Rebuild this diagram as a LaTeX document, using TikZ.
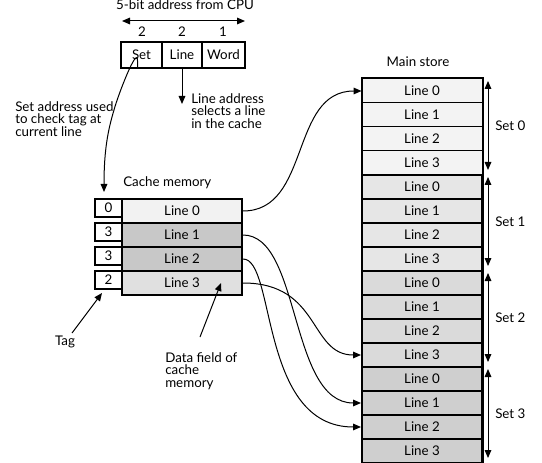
\documentclass[tikz,border=0pt]{standalone}
\usepackage{fontspec}
\setmainfont{Lato}
\usetikzlibrary{arrows.meta}
\definecolor{msA}{HTML}{F3F3F3}
\definecolor{msB}{HTML}{E6E6E6}
\definecolor{msC}{HTML}{DADADA}
\definecolor{msD}{HTML}{CFCFCF}
\definecolor{cLight}{HTML}{F2F2F2}
\definecolor{cDark}{HTML}{C8C8C8}
\definecolor{cMid}{HTML}{E0E0E0}
\begin{document}
\begin{tikzpicture}[x=0.75pt,y=-0.75pt,
  font=\fontsize{10}{9.6}\selectfont,
  rowbox/.style={draw, line width=1.5pt, minimum width=90pt, minimum height=18pt, inner sep=0pt},
  tagbox/.style={draw, line width=1.5pt, minimum width=20.25pt, minimum height=13.5pt, inner sep=0pt},
  addrbox/.style={draw, line width=1.1pt, minimum height=19.5pt, inner sep=0pt},
  txt/.style={inner sep=0pt, align=left},
  conn/.style={line width=0.75pt, -{Triangle[length=6pt,width=5pt]}},
  dbl/.style={line width=0.75pt, {Triangle[length=6pt,width=5pt]}-{Triangle[length=6pt,width=5pt]}}]
\useasboundingbox (0,0) rectangle (542,463);

% top address
\node[inner sep=0pt, anchor=base] (title) at (185,10) {5-bit address from CPU};
\coordinate (tl) at (122,21);
\coordinate (tr) at (245,21);
\draw[dbl] (tl) -- (tr);
\node[inner sep=0pt, anchor=base] (n1) at (142,37) {2};
\node[inner sep=0pt, anchor=base] (n2) at (182,37) {2};
\node[inner sep=0pt, anchor=base] (n3) at (223,37) {1};
\node[addrbox, minimum width=30.75pt] (aset) at (141.5,55) {Set};
\node[addrbox, minimum width=30pt] (aline) at (182,55) {Line};
\node[addrbox, minimum width=32.25pt] (aword) at (223.5,55) {Word};

% annotations
\node[txt, anchor=north west] (setnote) at (15,101) {Set address used\\to check tag at\\current line};
\node[txt, anchor=north west] (linenote) at (191,93) {Line address\\selects a line\\in the cache};
\coordinate (setend) at (104,192);
\coordinate (lineend) at (182,104);
\draw[conn] ([xshift=-3pt]aset.south) -- +(0,-8) .. controls +(0,-16) and (118,95) .. (114,110) .. controls (108,130) and (104,150) .. (setend);
\draw[conn] (aline.south) -- (lineend);

\node[inner sep=0pt, anchor=base west] (cmlabel) at (123,187) {Cache memory};

% cache memory
\node[rowbox, fill=cLight] (c0) at (182,211) {Line 0};
\node[rowbox, fill=cDark] (c1) at (182,235) {Line 1};
\node[rowbox, fill=cDark] (c2) at (182,259) {Line 2};
\node[rowbox, fill=cMid] (c3) at (182,283) {Line 3};
\node[tagbox] (t0) at (108.5,208) {0};
\node[tagbox] (t1) at (108.5,232) {3};
\node[tagbox] (t2) at (108.5,256) {3};
\node[tagbox] (t3) at (108.5,280) {2};

\node[inner sep=0pt, anchor=base] (tag) at (65,345) {Tag};
\coordinate (tagfrom) at (72,333);
\coordinate (tagend) at (102,293);
\draw[conn] (tagfrom) -- (tagend);
\node[txt, anchor=north west] (datanote) at (165,352) {Data field of\\cache\\memory};
\coordinate (datafrom) at (200,337);
\coordinate (dataend) at (221,283);
\draw[conn] (datafrom) -- (dataend);

% main store
\node[inner sep=0pt, anchor=base] (mslabel) at (418,67) {Main store};
\foreach \s/\col in {0/msA,1/msB,2/msC,3/msD} {
  \foreach \l in {0,...,3} {
    \pgfmathtruncatemacro\k{4*\s+\l}
    \ifnum\s=0
      \node[rowbox, fill=\col, line width=0.75pt] (ms\k) at (422,{91+24*\k}) {Line \l};
    \else
      \node[rowbox, fill=\col] (ms\k) at (422,{91+24*\k}) {Line \l};
    \fi
  }
  \coordinate (st\s) at (488,{79+96*\s+2});
  \coordinate (sb\s) at (488,{79+96*\s+91});
  \draw[dbl] (st\s) -- (sb\s);
  \node[inner sep=0pt, anchor=west] (setlab\s) at (495,{79+96*\s+47}) {Set \s};
}
\draw[line width=1.5pt] (ms0.north west) rectangle (ms15.south east);

% mapping connectors
\draw[conn] (c0.east) .. controls +(68,0) and +(-72,0) .. (ms0.west);
\draw[conn] (c1.east) .. controls +(58,0) and +(-72,0) .. (ms13.west);
\draw[conn] (c2.east) .. controls +(33,0) and +(-102,0) .. (ms14.west);
\draw[conn] (c3.east) .. controls +(78,0) and +(-52,0) .. (ms11.west);
\end{tikzpicture}
\end{document}
